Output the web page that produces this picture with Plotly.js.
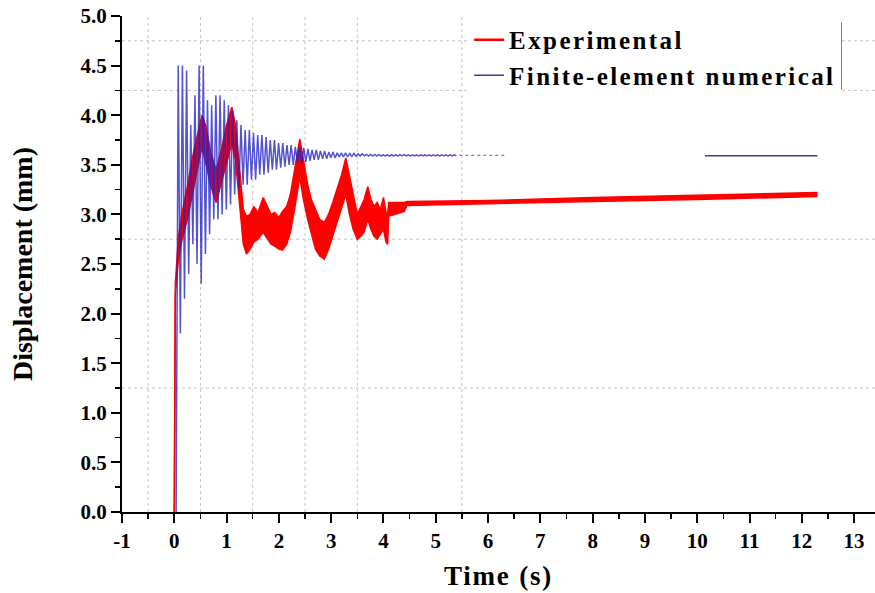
<!DOCTYPE html>
<html>
<head>
<meta charset="utf-8">
<script src="https://cdn.plot.ly/plotly-3.0.1.min.js"></script>
<style>
html,body{margin:0;padding:0;background:#fff;}
.legendtext{letter-spacing:2.4px;}
.g-xtitle text{letter-spacing:1.8px;}
</style>
</head>
<body>
<div id="chart" style="width:875px;height:593px;"></div>
<script>
// ---- Experimental (red band: upper / lower envelope of the noisy record) ----
const expTime  = [0, 0.02, 0.08, 0.15, 0.25, 0.35, 0.45, 0.53, 0.6, 0.7, 0.8, 0.9, 1.0, 1.1,
  1.17, 1.25, 1.32, 1.38, 1.45, 1.52, 1.6, 1.7, 1.78, 1.85, 1.92, 2.0, 2.07, 2.15, 2.22, 2.3,
  2.4, 2.47, 2.55, 2.62, 2.7, 2.78, 2.87, 2.95, 3.03, 3.12, 3.2, 3.28, 3.35, 3.42, 3.5,
  3.57, 3.63, 3.7, 3.76, 3.82, 3.88, 3.94, 4.0, 4.05, 4.08, 4.1, 4.4, 4.45, 6, 8, 10, 12.3];
const expUpper = [0, 2.3, 2.78, 3.02, 3.28, 3.58, 3.82, 4.0, 3.9, 3.62, 3.45, 3.65, 3.9, 4.08,
  3.9, 3.45, 3.05, 2.98, 3.0, 3.08, 3.02, 3.17, 3.08, 3.0, 3.02, 2.97, 3.03, 3.08, 3.2, 3.45,
  3.76, 3.55, 3.3, 3.15, 3.05, 2.95, 2.92, 3.0, 3.12, 3.28, 3.4, 3.57, 3.38, 3.18, 3.0,
  3.08, 3.15, 3.28, 3.15, 3.08, 3.12, 3.05, 3.17, 3.02, 3.0, 3.12, 3.12, 3.13, 3.14, 3.17, 3.19, 3.22];
const expLower = [0, 2.2, 2.55, 2.75, 2.95, 3.22, 3.48, 3.68, 3.52, 3.28, 3.12, 3.32, 3.52, 3.72,
  3.55, 3.05, 2.7, 2.6, 2.65, 2.72, 2.75, 2.82, 2.76, 2.7, 2.68, 2.65, 2.64, 2.7, 2.82, 3.05,
  3.38, 3.15, 2.95, 2.8, 2.65, 2.58, 2.55, 2.65, 2.78, 2.92, 3.05, 3.2, 3.0, 2.85, 2.75,
  2.78, 2.82, 2.95, 2.85, 2.78, 2.75, 2.8, 2.85, 2.72, 2.7, 2.98, 3.03, 3.09, 3.11, 3.13, 3.15, 3.18];

// ---- Finite-element numerical (blue): successive peaks/troughs, half-period 0.04 s from t = 0.035 s ----
const feStart = 0.035;
const feStep = 0.04;
const feValues = [0.0, 4.5, 1.8, 4.5, 2.15, 4.45, 2.4, 3.9, 2.7, 4.2, 2.5, 4.5, 2.3, 4.5, 2.6, 4.15, 2.8, 4.1, 2.95, 4.2,
  2.95, 4.2, 3.0, 4.15, 3.05, 4.1, 3.1, 4.05, 3.2, 3.95, 3.25, 3.9, 3.3, 3.85, 3.3, 3.85, 3.35, 3.82, 3.35, 3.8,
  3.4, 3.8, 3.4, 3.78, 3.42, 3.75, 3.45, 3.75, 3.45, 3.72, 3.47, 3.72, 3.48, 3.7, 3.5, 3.7, 3.5, 3.68, 3.52, 3.68,
  3.52, 3.67, 3.53, 3.66, 3.54, 3.65, 3.55, 3.65, 3.55, 3.64, 3.56, 3.64, 3.56, 3.63, 3.57, 3.63, 3.57, 3.62, 3.58, 3.62,
  3.58, 3.62, 3.58, 3.615, 3.585, 3.615, 3.585, 3.61, 3.59, 3.61, 3.59, 3.605, 3.588, 3.605, 3.588, 3.604, 3.588, 3.604, 3.588, 3.603,
  3.588, 3.603, 3.588, 3.603, 3.588, 3.602, 3.589, 3.602, 3.589, 3.602, 3.589, 3.601, 3.589, 3.601, 3.589, 3.601, 3.59, 3.6, 3.59, 3.6,
  3.59, 3.6, 3.59, 3.6, 3.59, 3.6, 3.59, 3.6, 3.59, 3.6, 3.59, 3.6, 3.59, 3.6, 3.59];
const feFadeTime = [5.45, 6.35];
const feFadeValue = [3.595, 3.595];
const feTailTime = [10.15, 12.3];
const feTailValue = [3.59, 3.59];

// ---- axes / grid ----
const xTicks = [-1, 0, 1, 2, 3, 4, 5, 6, 7, 8, 9, 10, 11, 12, 13];
const yTicks = [0.0, 0.5, 1.0, 1.5, 2.0, 2.5, 3.0, 3.5, 4.0, 4.5, 5.0];
const gridX = [-0.5, 0.5, 1.5, 2.5, 3.5, 5.5];
const gridY = [1.25, 2.75, 4.25, 4.75];

const RED = '#ff0000';
const BLUE = 'rgba(35,35,195,0.78)';
const FONT = 'Liberation Serif, Times New Roman, serif';

const traces = [
  {x: expTime, y: expLower, mode: 'lines', line: {color: RED, width: 1.5}, showlegend: false, hoverinfo: 'skip'},
  {x: expTime, y: expUpper, mode: 'lines', fill: 'tonexty', fillcolor: RED, line: {color: RED, width: 1.5}, showlegend: false, hoverinfo: 'skip'},
  {x0: feStart, dx: feStep, y: feValues, mode: 'lines', line: {color: BLUE, width: 1.5}, showlegend: false},
  {x: feFadeTime, y: feFadeValue, mode: 'lines', line: {color: 'rgba(40,40,180,0.6)', width: 1.3, dash: 'dot'}, showlegend: false},
  {x: feTailTime, y: feTailValue, mode: 'lines', line: {color: '#3838a8', width: 1.5}, showlegend: false},
  {x: [null], y: [null], mode: 'lines', name: 'Experimental', line: {color: RED, width: 2.5}},
  {x: [null], y: [null], mode: 'lines', name: 'Finite-element numerical', line: {color: '#3838a8', width: 1.5}}
];

const shapes = [];
gridX.forEach(v => shapes.push({type: 'line', xref: 'x', yref: 'paper', x0: v, x1: v, y0: 0, y1: 1,
  line: {color: '#c4c4c4', width: 1, dash: 'dot'}, layer: 'below'}));
gridY.forEach(v => shapes.push({type: 'line', xref: 'paper', yref: 'y', x0: 0, x1: 1, y0: v, y1: v,
  line: {color: '#c4c4c4', width: 1, dash: 'dot'}, layer: 'below'}));
// legend frame (right edge)
shapes.push({type: 'line', xref: 'paper', yref: 'paper', x0: 0.955, x1: 0.955, y0: 0.852, y1: 0.988,
  line: {color: '#707070', width: 1.5}, layer: 'above'});

const layout = {
  width: 875, height: 593, autosize: false,
  margin: {l: 122, r: 0, t: 16, b: 81},
  paper_bgcolor: '#ffffff', plot_bgcolor: '#ffffff',
  font: {family: FONT, color: '#000', weight: 'bold'},
  showlegend: true,
  legend: {x: 0.955, xanchor: 'right', y: 0.998, yanchor: 'top', bgcolor: '#ffffff', traceorder: 'normal',
    borderwidth: 0, font: {family: FONT, size: 25, weight: 'bold', color: '#000'}, tracegroupgap: 0},
  xaxis: {
    range: [-1, 13.4], tickvals: xTicks, ticktext: xTicks.map(String),
    ticks: 'outside', ticklen: 9, tickwidth: 2, tickcolor: '#000',
    minor: {dtick: 0.5, tick0: -0.5, ticks: 'outside', ticklen: 5, tickwidth: 1.5, tickcolor: '#000', showgrid: false},
    showline: true, linewidth: 2, linecolor: '#000', showgrid: false, zeroline: false,
    tickfont: {family: FONT, size: 21, weight: 'bold', color: '#000'},
    title: {text: 'Time (s)', font: {family: FONT, size: 27, weight: 'bold', color: '#000'}, standoff: 14}
  },
  yaxis: {
    range: [0, 5], tickvals: yTicks, ticktext: yTicks.map(v => v.toFixed(1)),
    ticks: 'outside', ticklen: 9, tickwidth: 2, tickcolor: '#000',
    minor: {dtick: 0.25, tick0: 0.25, ticks: 'outside', ticklen: 5, tickwidth: 1.5, tickcolor: '#000', showgrid: false},
    showline: true, linewidth: 2, linecolor: '#000', showgrid: false, zeroline: false,
    tickfont: {family: FONT, size: 21, weight: 'bold', color: '#000'},
    title: {text: 'Displacement (mm)', font: {family: FONT, size: 28, weight: 'bold', color: '#000'}, standoff: 40}
  },
  shapes: shapes
};

Plotly.newPlot('chart', traces, layout, {displayModeBar: false, staticPlot: true});
</script>
</body>
</html>
